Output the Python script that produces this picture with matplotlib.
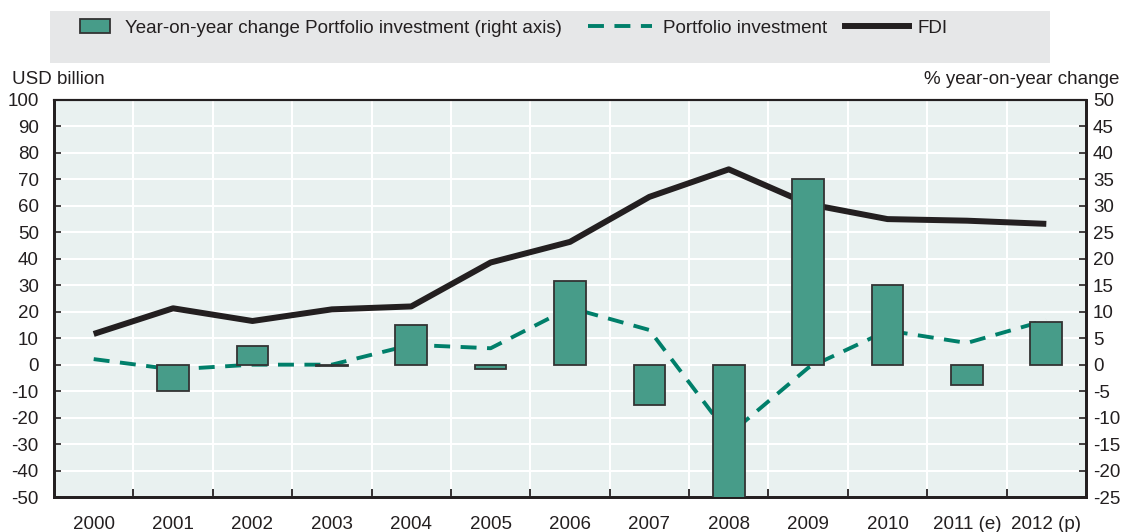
import matplotlib
matplotlib.use("Agg")
import matplotlib.pyplot as plt
from matplotlib import font_manager
import numpy as np
from matplotlib.patches import Rectangle, Patch
from matplotlib.lines import Line2D

# pick a narrow font if one is installed, else plain Liberation Sans
installed = {f.name for f in font_manager.fontManager.ttflist}
narrow = [n for n in ["Liberation Sans Narrow", "Arial Narrow", "DejaVu Sans Condensed"] if n in installed]
if narrow:
    plt.rcParams['font.family'] = [narrow[0], 'DejaVu Sans']
    FS = 14.5
else:
    plt.rcParams['font.family'] = ['Liberation Sans', 'DejaVu Sans']
    FS = 13.5
plt.rcParams['axes.unicode_minus'] = False

years = ["2000", "2001", "2002", "2003", "2004", "2005", "2006",
         "2007", "2008", "2009", "2010", "2011 (e)", "2012 (p)"]
fdi = [11.6, 21.3, 16.5, 20.9, 22.0, 38.6, 46.4, 63.4, 73.8, 60.7, 55.0, 54.4, 53.2]
portfolio = [2.1, -1.8, 0.0, 0.0, 7.5, 6.2, 21.5, 13.1, -26.5, -1.2, 12.9, 8.2, 16.8]
yoy_change = [np.nan, -4.9, 3.5, -0.3, 7.5, -0.8, 15.9, -7.6, -30.0, 35.0, 15.0, -3.8, 8.1]

BAR = "#479c89"
DASH = "#007f6a"
LINE = "#231f20"
BG = "#e9f1f0"
TXT = "#231f20"
DASH_STYLE = (0, (4.1, 2.7))

fig = plt.figure(figsize=(11.21, 5.32), dpi=100)
ax = fig.add_axes([54 / 1121, 35 / 532, 1032 / 1121, 397 / 532])
ax2 = ax.twinx()

x = np.arange(len(years))

# left axis: lines
ax.set_facecolor(BG)
ax.plot(x, fdi, color=LINE, lw=4.3, solid_capstyle="butt", zorder=3)
ax.plot(x, portfolio, color=DASH, lw=2.8, linestyle=DASH_STYLE, zorder=3)
ax.set_ylim(-50, 100)
ax.set_yticks(np.arange(-50, 101, 10))
ax.set_xlim(-0.5, len(years) - 0.5)
ax.set_xticks(x)
ax.set_xticklabels(years)
ax.set_xticks(np.arange(0.5, len(years) - 0.5), minor=True)
ax.grid(True, which="major", axis="y", color="white", lw=1.5, zorder=1)
ax.grid(True, which="minor", axis="x", color="white", lw=1.5, zorder=1)
ax.set_axisbelow(True)
ax.tick_params(axis="x", which="major", length=0, pad=14, labelsize=FS, labelcolor=TXT)
ax.tick_params(axis="x", which="minor", direction="in", length=6, width=1.3, color=TXT)
ax.tick_params(axis="y", direction="in", length=5, width=1.2, color=TXT, pad=11,
               labelsize=FS, labelcolor=TXT)

# right axis: bars
ax2.bar(x, yoy_change, width=0.4, color=BAR, edgecolor="#333333", lw=1.3, zorder=4)
ax2.set_ylim(-25, 50)
ax2.set_yticks(np.arange(-25, 51, 5))
ax2.tick_params(axis="y", direction="in", length=5, width=1.2, color=TXT, pad=5,
                labelsize=FS, labelcolor=TXT)

for a in (ax, ax2):
    for s in ["left", "bottom", "right"]:
        a.spines[s].set_linewidth(2)
        a.spines[s].set_color(TXT)
    a.spines["top"].set_linewidth(1.5)
    a.spines["top"].set_color(TXT)

fig.text(12 / 1121, 1 - 80 / 532, "USD billion", fontsize=FS, color=TXT, va="center", ha="left")
fig.text(1119 / 1121, 1 - 80 / 532, "% year-on-year change", fontsize=FS, color=TXT,
         va="center", ha="right")

# legend box with three entries
fig.patches.append(Rectangle((50 / 1121, 1 - 63 / 532), 1000 / 1121, 52 / 532,
                             transform=fig.transFigure, facecolor="#e6e7e8",
                             edgecolor="none", zorder=0))
entries = [
    (Patch(facecolor=BAR, edgecolor="#333333", lw=1.3),
     "Year-on-year change Portfolio investment (right axis)", 80, 1.6, 0.8),
    (Line2D([], [], color=DASH, lw=2.8, linestyle=DASH_STYLE),
     "Portfolio investment", 588, 3.4, 0.6),
    (Line2D([], [], color=LINE, lw=4.3),
     "FDI", 845, 3.4, 0.45),
]
for handle, label, x0, hl, tp in entries:
    fig.legend([handle], [label], loc="center left", bbox_to_anchor=(x0 / 1121, 1 - 28 / 532),
               frameon=False, fontsize=FS, handlelength=hl, handleheight=0.75,
               handletextpad=tp, borderpad=0, borderaxespad=0, labelcolor=TXT)

fig.savefig("out.png", dpi=100)
